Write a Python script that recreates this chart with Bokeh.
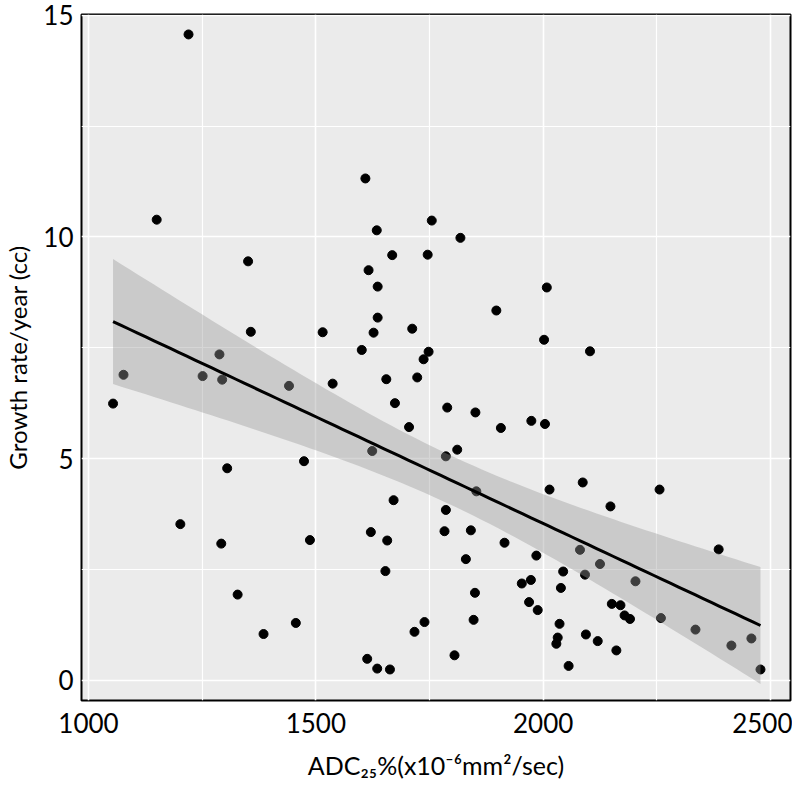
import numpy as np
from bokeh.plotting import figure
from bokeh.models import FixedTicker, Range1d
from bokeh.embed import file_html
from bokeh.resources import INLINE

# ADC25% (x10^-6 mm^2/sec) values
adc = [1054, 1077, 1150, 1202, 1220, 1251, 1288, 1292, 1294, 1305,
       1328, 1351, 1357, 1385, 1441, 1456, 1474, 1487, 1515, 1537,
       1601, 1609, 1613, 1616, 1621, 1624, 1627, 1634, 1635, 1636,
       1636, 1653, 1655, 1657, 1663, 1668, 1671, 1674, 1705, 1712,
       1717, 1723, 1737, 1739, 1746, 1748, 1755, 1783, 1786, 1786,
       1789, 1805, 1811, 1818, 1830, 1841, 1847, 1850, 1851, 1853,
       1897, 1907, 1915, 1953, 1969, 1973, 1974, 1985, 1988, 2002,
       2004, 2008, 2014, 2029, 2032, 2036, 2039, 2044, 2056, 2081,
       2087, 2092, 2094, 2103, 2120, 2125, 2148, 2151, 2161, 2170,
       2179, 2191, 2203, 2256, 2259, 2335, 2386, 2414, 2458, 2478]

# Growth rate / year (cc)
growth = [6.24, 6.89, 10.39, 3.52, 14.57, 6.86, 7.35, 3.08, 6.78, 4.78,
          1.93, 9.45, 7.86, 1.04, 6.64, 1.29, 4.94, 3.16, 7.85, 6.69,
          7.45, 11.32, 0.48, 9.25, 3.34, 5.17, 7.84, 10.15, 0.26, 8.88,
          8.18, 2.46, 6.79, 3.15, 0.24, 9.59, 4.06, 6.25, 5.71, 7.93,
          1.09, 6.83, 7.24, 1.31, 9.60, 7.41, 10.37, 3.36, 5.05, 3.84,
          6.15, 0.56, 5.20, 9.98, 2.73, 3.38, 1.36, 1.97, 6.04, 4.26,
          8.34, 5.69, 3.10, 2.18, 1.76, 2.26, 5.85, 2.81, 1.58, 7.68,
          5.78, 8.86, 4.30, 0.82, 0.96, 1.27, 2.08, 2.45, 0.32, 2.94,
          4.46, 2.38, 1.03, 7.42, 0.88, 2.62, 3.92, 1.72, 0.67, 1.69,
          1.46, 1.38, 2.23, 4.30, 1.40, 1.14, 2.95, 0.78, 0.94, 0.24]

x_ticks = [1000, 1500, 2000, 2500]
x_minor = [1250, 1750, 2250]
y_ticks = [0, 5, 10, 15]
y_minor = [2.5, 7.5, 12.5]

# linear fit with 95% confidence band (as geom_smooth(method="lm"))
x = np.array(adc, dtype=float)
y = np.array(growth, dtype=float)
n = len(x)
slope, intercept = np.polyfit(x, y, 1)
xs = np.linspace(x.min(), x.max(), 80)
yhat = intercept + slope * xs
resid = y - (intercept + slope * x)
s = np.sqrt(np.sum(resid ** 2) / (n - 2))
sxx = np.sum((x - x.mean()) ** 2)
t_crit = 1.9845
se = s * np.sqrt(1.0 / n + (xs - x.mean()) ** 2 / sxx)
lower = yhat - t_crit * se
upper = yhat + t_crit * se

FONT = "Lato"

p = figure(frame_width=709, frame_height=686,
           x_range=Range1d(984.6, 2544), y_range=Range1d(-0.46, 15.02),
           output_backend="svg", toolbar_location=None,
           min_border_left=0, min_border_right=2, min_border_top=14, min_border_bottom=0)

p.background_fill_color = "#EBEBEB"
p.border_fill_color = "white"
p.outline_line_color = "black"
p.outline_line_width = 2

for g in (p.xgrid, p.ygrid):
    g.grid_line_color = "white"
    g.grid_line_width = 1.6
    g.minor_grid_line_color = "white"
    g.minor_grid_line_width = 1.2

p.xaxis.ticker = FixedTicker(ticks=x_ticks, minor_ticks=x_minor)
p.yaxis.ticker = FixedTicker(ticks=y_ticks, minor_ticks=y_minor)

for ax in (p.xaxis, p.yaxis):
    ax.axis_line_color = None
    ax.major_tick_line_color = None
    ax.minor_tick_line_color = None
    ax.major_tick_in = 0
    ax.major_tick_out = 0
    ax.minor_tick_in = 0
    ax.minor_tick_out = 0
    ax.major_label_text_font = FONT
    ax.major_label_text_font_size = "26px"
    ax.major_label_text_color = "black"
    ax.axis_label_text_font = FONT
    ax.axis_label_text_font_style = "normal"
    ax.axis_label_text_color = "black"

p.xaxis.axis_label_text_font_size = "25px"
p.yaxis.axis_label_text_font_size = "24px"
p.xaxis.major_label_standoff = 12
p.yaxis.major_label_standoff = 8
p.xaxis.axis_label = "ADC\u2082\u2085%(x10\u207b\u2076mm\u00b2/sec)"
p.yaxis.axis_label = "Growth rate/year (cc)"
p.xaxis.axis_label_standoff = 14
p.yaxis.axis_label_standoff = 8

p.scatter(adc, growth, size=9, fill_color="black", line_color="black")
p.varea(x=xs, y1=lower, y2=upper, fill_color="#999999", fill_alpha=0.4)
p.line(xs, yhat, line_color="black", line_width=3)

open("out.html", "w").write(file_html(p, INLINE))
